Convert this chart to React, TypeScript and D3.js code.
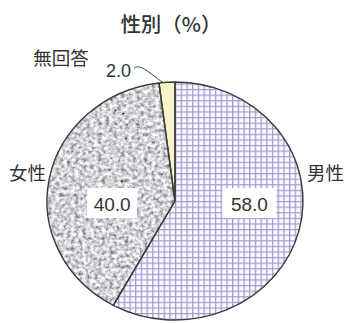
import React from "react";
import * as d3 from "d3";

// Gender breakdown (%)
const categories = ["男性", "女性", "無回答"];
const values = [58.0, 40.0, 2.0];
const valueLabels = ["58.0", "40.0", "2.0"];
const title = "性別（%）";

const W = 348;
const H = 323;
const cx = 175;
const cy = 201;
const rx = 128;
const ry = 119;
const sx = rx / ry;

const FONT = "'Noto Sans CJK JP', 'Noto Sans', sans-serif";
const NUM_FONT = "'Liberation Sans', Arial, sans-serif";
const TEXT = "#333";

export default function App() {
  const slices = d3
    .pie<number>()
    .sort(null)
    .value((d) => d)(values);

  const arc = d3
    .arc<d3.PieArcDatum<number>>()
    .innerRadius(0)
    .outerRadius(ry);

  const fills = ["url(#grid)", "#a9a8ac", "#f8f4c9"];

  // point on the (stretched) rim at a given angle, radius fraction f
  const rim = (a: number, f: number) => [
    cx + Math.sin(a) * rx * f,
    cy - Math.cos(a) * ry * f,
  ];

  const male = slices[0];
  const female = slices[1];
  const na = slices[2];

  const maleMid = (male.startAngle + male.endAngle) / 2;
  const femaleMid = (female.startAngle + female.endAngle) / 2;
  const maleX = rim(maleMid, 0.6)[0];
  const femaleX = rim(femaleMid, 0.5)[0];
  const labelY = cy + 2;

  const naTip = rim(na.startAngle + (na.endAngle - na.startAngle) * 0.25, 1.0);

  return (
    <svg
      width={W}
      height={H}
      viewBox={`0 0 ${W} ${H}`}
      style={{ position: "fixed", left: 0, top: 0, background: "#fff" }}
    >
      <defs>
        <pattern
          id="grid"
          patternUnits="userSpaceOnUse"
          width={5.3}
          height={5.6}
        >
          <rect width={5.3} height={5.6} fill="#fbfaff" />
          <line x1={0.6} y1={0} x2={0.6} y2={5.6} stroke="#a49ccf" strokeWidth={1.2} />
          <line x1={0} y1={0.6} x2={5.3} y2={0.6} stroke="#a49ccf" strokeWidth={1.2} />
        </pattern>
        <filter id="speckle" x="0" y="0" width="100%" height="100%">
          <feTurbulence
            type="fractalNoise"
            baseFrequency="0.28"
            numOctaves={3}
            seed={5}
            result="noise"
          />
          <feColorMatrix
            in="noise"
            type="matrix"
            values="1.5 0 0 0 -0.1  1.5 0 0 0 -0.1  1.5 0 0 0 -0.07  0 0 0 0 1"
            result="gray"
          />
          <feGaussianBlur in="gray" stdDeviation="0.45" result="soft" />
          <feComposite in="soft" in2="SourceGraphic" operator="in" />
        </filter>
      </defs>

      <text
        x={cx - 4}
        y={32}
        textAnchor="middle"
        fontFamily={FONT}
        fontSize={20.5}
        fontWeight={500}
        fill={TEXT}
      >
        {title}
      </text>

      <g transform={`translate(${cx},${cy}) scale(${sx},1)`}>
        {slices.map((s, i) => (
          <path
            key={categories[i]}
            d={arc(s) || ""}
            fill={fills[i]}
            filter={i === 1 ? "url(#speckle)" : undefined}
          />
        ))}
        {slices.map((s, i) => (
          <path
            key={"o" + categories[i]}
            d={arc(s) || ""}
            fill="none"
            stroke="#3c3c3c"
            strokeWidth={1.4}
            strokeLinejoin="round"
            vectorEffect="non-scaling-stroke"
          />
        ))}
      </g>

      {/* value boxes */}
      <rect x={maleX - 27} y={labelY - 15} width={54} height={30} fill="#fff" />
      <text
        x={maleX}
        y={labelY + 1}
        textAnchor="middle"
        dominantBaseline="central"
        fontFamily={NUM_FONT}
        fontSize={19}
        fill={TEXT}
      >
        {valueLabels[0]}
      </text>
      <rect x={femaleX - 25} y={labelY - 15} width={50} height={30} fill="#fff" />
      <text
        x={femaleX}
        y={labelY + 1}
        textAnchor="middle"
        dominantBaseline="central"
        fontFamily={NUM_FONT}
        fontSize={19}
        fill={TEXT}
      >
        {valueLabels[1]}
      </text>

      {/* category labels */}
      <text
        x={46}
        y={172}
        textAnchor="end"
        dominantBaseline="central"
        fontFamily={FONT}
        fontSize={18.5}
        fill={TEXT}
      >
        {categories[1]}
      </text>
      <text
        x={307}
        y={172}
        textAnchor="start"
        dominantBaseline="central"
        fontFamily={FONT}
        fontSize={18.5}
        fill={TEXT}
      >
        {categories[0]}
      </text>
      <text
        x={61}
        y={57}
        textAnchor="middle"
        dominantBaseline="central"
        fontFamily={FONT}
        fontSize={18.5}
        fill={TEXT}
      >
        {categories[2]}
      </text>
      <text
        x={131}
        y={71}
        textAnchor="end"
        dominantBaseline="central"
        fontFamily={NUM_FONT}
        fontSize={18}
        fill={TEXT}
      >
        {valueLabels[2]}
      </text>
      <path
        d={`M134,68 C141,64 148,72 ${naTip[0]},${naTip[1]}`}
        fill="none"
        stroke="#444"
        strokeWidth={1}
      />
    </svg>
  );
}
